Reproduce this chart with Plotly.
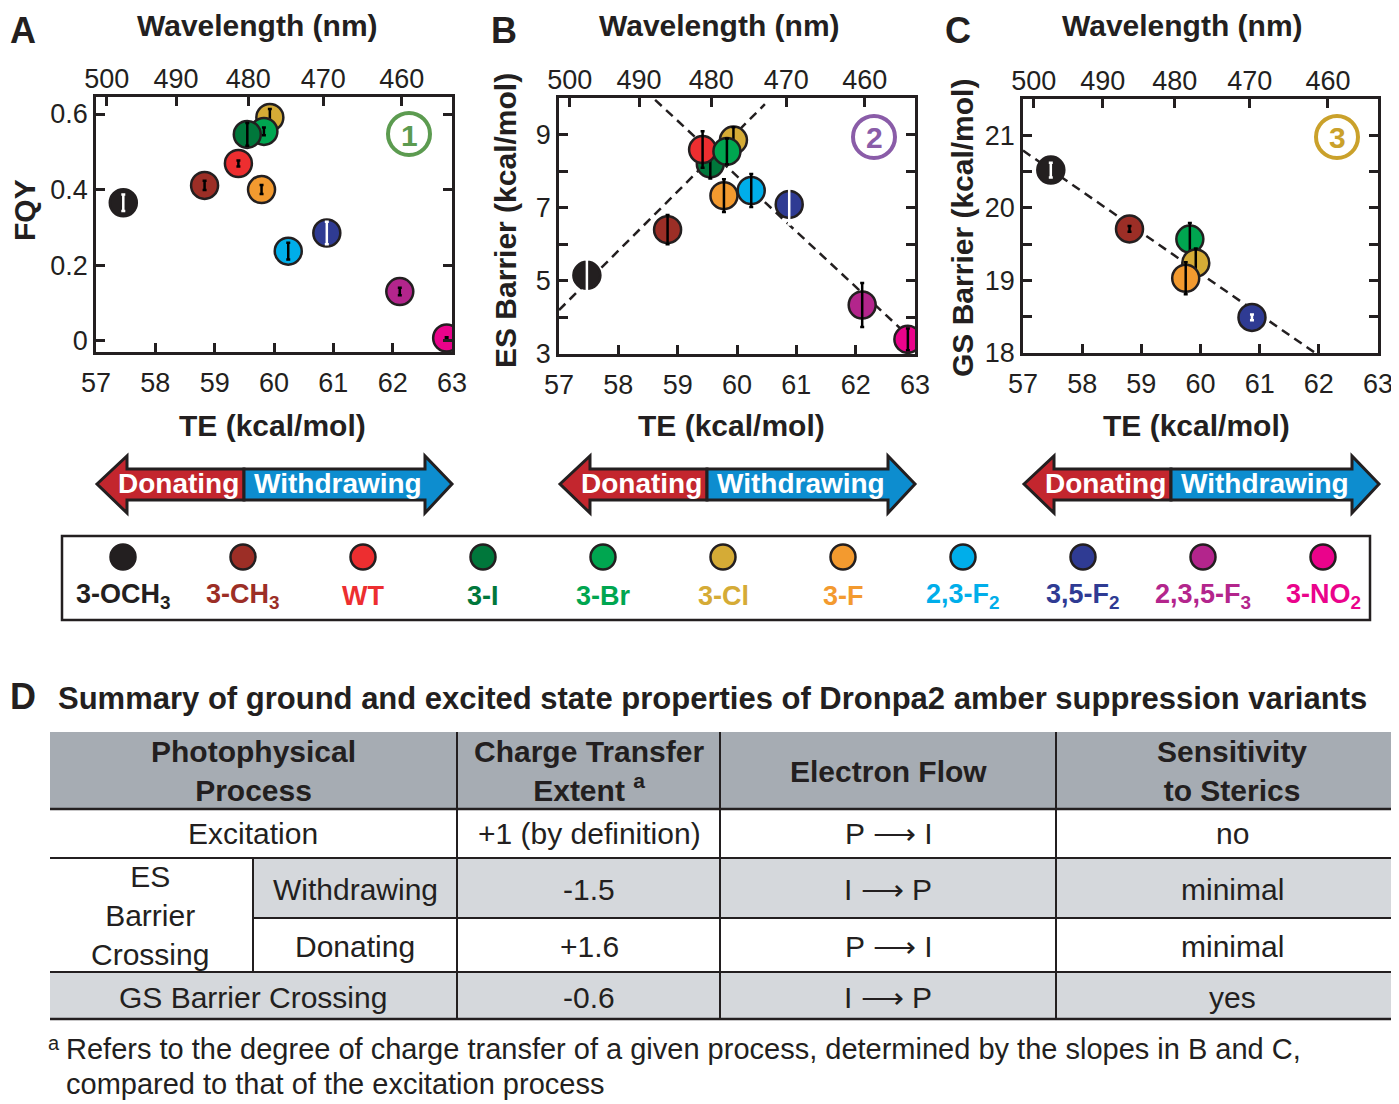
import plotly.graph_objects as go

# ----------------------------
# Datos
# ----------------------------
variants = ['3-OCH<sub>3</sub>', '3-CH<sub>3</sub>', 'WT', '3-I', '3-Br', '3-Cl', '3-F',
            '2,3-F<sub>2</sub>', '3,5-F<sub>2</sub>', '2,3,5-F<sub>3</sub>', '3-NO<sub>2</sub>']
colors = ['#231f20', '#9c2e26', '#ed2e30', '#00773b', '#00a650', '#d5ab36', '#f39a2f',
          '#00aeea', '#2f3b93', '#b3258c', '#ea038b']
bar_colors = ['white', 'black', 'black', 'black', 'black', 'black', 'black',
              'black', 'white', 'black', 'black']

# panel A: FQY vs TE
te_a = [57.46, 58.83, 59.40, 59.55, 59.83, 59.93, 59.79, 60.24, 60.89, 62.12, 62.91]
fqy = [0.365, 0.411, 0.469, 0.546, 0.554, 0.591, 0.400, 0.237, 0.285, 0.130, 0.007]
fqy_err = [0.022, 0.012, 0.008, 0.03, 0.01, 0.022, 0.012, 0.022, 0.03, 0.01, 0.002]
order_a = [0, 1, 2, 6, 5, 4, 3, 7, 8, 9, 10]

# panel B: ES barrier vs TE
te_b = [57.47, 58.83, 59.42, 59.55, 59.83, 59.94, 59.78, 60.24, 60.88, 62.11, 62.88]
es_barrier = [5.15, 6.40, 8.59, 8.20, 8.54, 8.85, 7.33, 7.47, 7.09, 4.34, 3.40]
es_err = [0.45, 0.4, 0.5, 0.4, 0.35, 0.35, 0.45, 0.45, 0.55, 0.6, 0.3]
order_b = [0, 1, 3, 2, 5, 4, 6, 7, 8, 9, 10]
es_up_x, es_up_y = [57.0, 60.47], [4.2, 9.83]
es_down_x, es_down_y = [58.62, 62.95], [9.95, 3.4]

# panel C: GS barrier vs TE (solo 6 variantes)
idx_c = [0, 1, 4, 5, 6, 8]
te_c = [57.47, 58.80, 59.82, 59.92, 59.75, 60.87]
gs_barrier = [20.52, 19.71, 19.57, 19.24, 19.03, 18.49]
gs_err = [0.1, 0.04, 0.22, 0.2, 0.22, 0.04]
gs_fit_x, gs_fit_y = [57.0, 61.94], [20.79, 18.0]

wavelengths = [500, 490, 480, 470, 460]
HC = 28591.0  # kcal/mol * nm

# tabla D
header = ['Photophysical<br>Process', 'Charge Transfer<br>Extent <sup>a</sup>',
          'Electron Flow', 'Sensitivity<br>to Sterics']
ct_extent = ['+1 (by definition)', '-1.5', '+1.6', '-0.6']
e_flow = ['P \u27f6 I', 'I \u27f6 P', 'P \u27f6 I', 'I \u27f6 P']
sterics = ['no', 'minimal', 'minimal', 'yes']

# ----------------------------
# Helpers
# ----------------------------
# la pagina tiene 8 px de margen en el body -> figura un poco mas chica y coordenadas corridas
OX, OY = 8, 8
W, H = 1391, 1096
FONT = 'Liberation Sans, Arial, Helvetica, sans-serif'
NARROW = 'Liberation Sans Narrow, Arial Narrow, Liberation Sans, Arial, sans-serif'
INK = '#231f20'


def px(x):
    return (x - OX) / W


def py(y):
    return 1 - (y - OY) / H


ann = []
shapes = []


def txt(x, y, s, size, bold=False, color=INK, family=FONT, angle=0, xanchor='center', yanchor='middle'):
    if bold:
        s = '<b>' + s + '</b>'
    ann.append(dict(x=px(x), y=py(y), xref='paper', yref='paper', text=s, showarrow=False,
                    font=dict(size=size, color=color, family=family), textangle=angle,
                    xanchor=xanchor, yanchor=yanchor, borderpad=0))


def hline(x0, x1, y, w=2):
    shapes.append(dict(type='line', xref='paper', yref='paper', x0=px(x0), x1=px(x1),
                       y0=py(y), y1=py(y), line=dict(color=INK, width=w)))


def vline(x, y0, y1, w=2):
    shapes.append(dict(type='line', xref='paper', yref='paper', x0=px(x), x1=px(x),
                       y0=py(y0), y1=py(y1), line=dict(color=INK, width=w)))


def rect(x0, y0, x1, y1, fill):
    shapes.append(dict(type='rect', xref='paper', yref='paper', x0=px(x0), x1=px(x1),
                       y0=py(y1), y1=py(y0), fillcolor=fill, layer='below', line=dict(width=0)))


def poly(pts, fill):
    d = 'M ' + ' L '.join(f'{px(x):.5f},{py(y):.5f}' for x, y in pts) + ' Z'
    shapes.append(dict(type='path', xref='paper', yref='paper', path=d, fillcolor=fill,
                       line=dict(color=INK, width=3)))


def circle(cx, cy, r, color):
    shapes.append(dict(type='circle', xref='paper', yref='paper', x0=px(cx - r), x1=px(cx + r),
                       y0=py(cy + r), y1=py(cy - r), line=dict(color=color, width=4)))


fig = go.Figure()


def add_points(xax, yax, xs, ys, errs, cols, bcols, order):
    for i in order:
        fig.add_trace(go.Scatter(x=[xs[i]], y=[ys[i]], xaxis=xax, yaxis=yax, mode='markers',
                                 marker=dict(size=27, color=cols[i], line=dict(color=INK, width=2.5)),
                                 showlegend=False, hoverinfo='skip'))
        fig.add_trace(go.Scatter(x=[xs[i]], y=[ys[i]], xaxis=xax, yaxis=yax, mode='markers',
                                 marker=dict(size=1, color='rgba(0,0,0,0)'),
                                 error_y=dict(type='data', array=[errs[i]], color=bcols[i],
                                              thickness=2.5, width=2),
                                 showlegend=False, hoverinfo='skip'))


def add_fit(xax, yax, xs, ys):
    fig.add_trace(go.Scatter(x=xs, y=ys, xaxis=xax, yaxis=yax, mode='lines',
                             line=dict(color=INK, width=2.5, dash='9px,6px'),
                             showlegend=False, hoverinfo='skip'))


# ----------------------------
# Paneles A, B, C
# ----------------------------
add_points('x', 'y', te_a, fqy, fqy_err, colors, bar_colors, order_a)

add_fit('x3', 'y2', es_up_x, es_up_y)
add_fit('x3', 'y2', es_down_x, es_down_y)
add_points('x3', 'y2', te_b, es_barrier, es_err, colors, bar_colors, order_b)

add_fit('x5', 'y3', gs_fit_x, gs_fit_y)
add_points('x5', 'y3', te_c, gs_barrier, gs_err,
           [colors[i] for i in idx_c], [bar_colors[i] for i in idx_c], list(range(len(idx_c))))

# ejes superiores (longitud de onda) necesitan una traza invisible
for xa, ya, xs, ys in [('x2', 'y', te_a, fqy), ('x4', 'y2', te_b, es_barrier), ('x6', 'y3', te_c, gs_barrier)]:
    fig.add_trace(go.Scatter(x=xs, y=ys, xaxis=xa, yaxis=ya, mode='markers',
                             marker=dict(size=1, opacity=0), showlegend=False, hoverinfo='skip'))

# leyenda
fig.add_trace(go.Scatter(x=list(range(len(variants))), y=[0] * len(variants), xaxis='x7', yaxis='y4',
                         mode='markers', marker=dict(size=25, color=colors, line=dict(color=INK, width=2.5)),
                         showlegend=False, hoverinfo='skip'))

tick_font = dict(size=27, color=INK, family=FONT)
axis_common = dict(showline=True, linecolor=INK, linewidth=2.5, ticks='inside', ticklen=9,
                   tickwidth=2.5, tickcolor=INK, showgrid=False, zeroline=False,
                   tickfont=tick_font, fixedrange=True, automargin=False)

panels = {
    # name: (bottom x, top x, y, x0, x1, ytop, ybot, yrange, yticks, ylabels, minor dtick)
    'A': ('xaxis', 'xaxis2', 'yaxis', 96, 452, 97, 352, [-0.03, 0.645],
          [0, 0.2, 0.4, 0.6], ['0', '0.2', '0.4', '0.6'], None),
    'B': ('xaxis3', 'xaxis4', 'yaxis2', 559, 915, 98, 354, [3, 10],
          [3, 5, 7, 9], ['3', '5', '7', '9'], 1),
    'C': ('xaxis5', 'xaxis6', 'yaxis3', 1023, 1378, 99, 353, [18, 21.5],
          [18, 19, 20, 21], ['18', '19', '20', '21'], 0.5),
}

layout_axes = {}
for name, (xb, xt, ya, x0, x1, yt, yb, yr, ytv, ytt, mdt) in panels.items():
    yid = 'y' if ya == 'yaxis' else 'y' + ya[5:]
    xbid = 'x' if xb == 'xaxis' else 'x' + xb[5:]
    layout_axes[xb] = dict(axis_common, domain=[px(x0), px(x1)], range=[57, 63], anchor=yid,
                           tickvals=[57, 58, 59, 60, 61, 62, 63], mirror=True,
                           ticklabelstandoff=5)
    layout_axes[xt] = dict(axis_common, overlaying=xbid, side='top', anchor=yid, range=[57, 63],
                           tickvals=[HC / w for w in wavelengths], ticktext=[str(w) for w in wavelengths],
                           ticklabelstandoff=-5)
    layout_axes[ya] = dict(axis_common, domain=[py(yb), py(yt)], range=yr, anchor=xbid,
                           tickvals=ytv, ticktext=ytt, mirror='ticks', ticklabelstandoff=0)
    if mdt:
        layout_axes[ya]['minor'] = dict(tick0=yr[0], dtick=mdt, ticks='inside', ticklen=9,
                                        tickwidth=2.5, tickcolor=INK, showgrid=False)

layout_axes['xaxis7'] = dict(domain=[px(63), px(1383)], range=[-0.5, 10.5], anchor='y4', visible=False,
                             fixedrange=True)
layout_axes['yaxis4'] = dict(domain=[py(580), py(534)], range=[-1, 1], anchor='x7', visible=False,
                             fixedrange=True)

# textos de los paneles
for letter, lx, wl_x, te_x, yt_x, yt_y, ytitle in [
        ('A', 23, 258, 272, 25, 210, 'FQY'),
        ('B', 504, 719, 731, 506, 221, 'ES Barrier (kcal/mol)'),
        ('C', 958, 1182, 1196, 962, 228, 'GS Barrier (kcal/mol)')]:
    txt(lx, 9, letter, 36, bold=True, yanchor='top')
    txt(wl_x, 25, 'Wavelength (nm)', 30, bold=True)
    txt(te_x, 425, 'TE (kcal/mol)', 30, bold=True)
    txt(yt_x, yt_y, ytitle, 30, bold=True, angle=-90)

# numeros en circulo
for n, cx, cy, c in [('1', 409, 134, '#5c9b50'), ('2', 874, 137, '#8a5ca8'), ('3', 1337, 137, '#caa12b')]:
    circle(cx, cy, 21, c)
    txt(cx, cy + 1, n, 30, bold=True, color=c)

# flechas Donating / Withdrawing
for dx in [0, 463, 927]:
    poly([(97 + dx, 484), (127 + dx, 456), (127 + dx, 469), (244 + dx, 469), (244 + dx, 500),
          (127 + dx, 500), (127 + dx, 513)], '#c3262e')
    poly([(244 + dx, 469), (425 + dx, 469), (425 + dx, 456), (452 + dx, 484), (425 + dx, 513),
          (425 + dx, 500), (244 + dx, 500)], '#0d8dcf')
    txt(178 + dx, 484, 'Donating', 28, bold=True, color='white')
    txt(338 + dx, 484, 'Withdrawing', 28, bold=True, color='white')

# caja de la leyenda
shapes.append(dict(type='rect', xref='paper', yref='paper', x0=px(62), x1=px(1370),
                   y0=py(620), y1=py(536), line=dict(color=INK, width=2.5)))
for i, (v, c) in enumerate(zip(variants, colors)):
    ann.append(dict(x=i, y=py(596), xref='x7', yref='paper', text='<b>' + v + '</b>', showarrow=False,
                    font=dict(size=27, color=c, family=NARROW), xanchor='center', yanchor='middle'))

# ----------------------------
# Panel D: tabla
# ----------------------------
txt(23, 675, 'D', 36, bold=True, yanchor='top')
txt(57, 698, 'Summary of ground and excited state properties of Dronpa2 amber suppression variants',
    31, bold=True, family=NARROW, xanchor='left')

L, R = 50, 1392
cols_x = [457, 720, 1056]
rows_y = [732, 809, 858, 918, 972, 1019]
rect(L, rows_y[0], R, rows_y[1], '#a6acb3')
rect(253, rows_y[2], R, rows_y[3], '#d5d8dc')
rect(L, rows_y[4], R, rows_y[5], '#d5d8dc')
hline(L, R, rows_y[1], 2.5)
hline(L, R, rows_y[2])
hline(253, R, rows_y[3])
hline(L, R, rows_y[4])
hline(L, R, rows_y[5], 2.5)
for cx in cols_x:
    vline(cx, rows_y[0], rows_y[5])
vline(253, rows_y[2], rows_y[4])

centers = [253, 589, 888, 1232]
for cx, h in zip(centers, header):
    txt(cx, 771, h, 30, bold=True, family=NARROW)

row_mid = [833, 889, 946, 997]
txt(253, row_mid[0], 'Excitation', 30, family=NARROW)
txt(150, 915, 'ES<br>Barrier<br>Crossing', 30, family=NARROW)
txt(355, row_mid[1], 'Withdrawing', 30, family=NARROW)
txt(355, row_mid[2], 'Donating', 30, family=NARROW)
txt(253, row_mid[3], 'GS Barrier Crossing', 30, family=NARROW)
for r, ym in enumerate(row_mid):
    txt(centers[1], ym, ct_extent[r], 30, family=NARROW)
    txt(centers[2], ym, e_flow[r], 30, family=NARROW)
    txt(centers[3], ym, sterics[r], 30, family=NARROW)

txt(47, 1043, 'a', 20, family=NARROW, xanchor='left')
txt(65, 1049, 'Refers to the degree of charge transfer of a given process, determined by the slopes in B and C,',
    29, family=NARROW, xanchor='left')
txt(65, 1084, 'compared to that of the excitation process', 29, family=NARROW, xanchor='left')

fig.update_layout(width=W, height=H, margin=dict(l=0, r=0, t=0, b=0, pad=0, autoexpand=False),
                  paper_bgcolor='white', plot_bgcolor='rgba(0,0,0,0)', annotations=ann, shapes=shapes,
                  showlegend=False, **layout_axes)

fig.write_html('out.html')
